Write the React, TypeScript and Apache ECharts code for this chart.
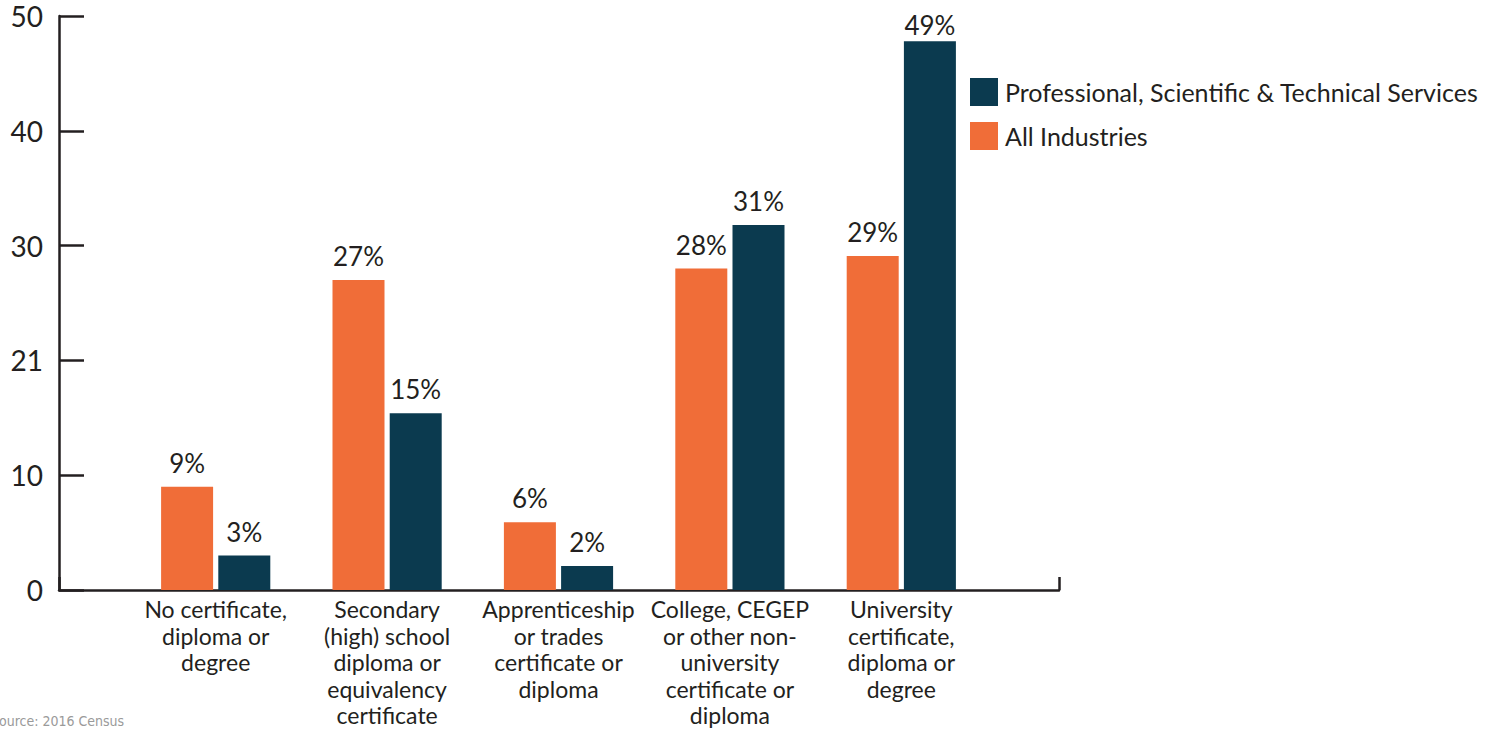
import React, { useEffect, useRef } from "react";
import * as echarts from "echarts";

const categories = [
  "No certificate,\ndiploma or\ndegree",
  "Secondary\n(high) school\ndiploma or\nequivalency\ncertificate",
  "Apprenticeship\nor trades\ncertificate or\ndiploma",
  "College, CEGEP\nor other non-\nuniversity\ncertificate or\ndiploma",
  "University\ncertificate,\ndiploma or\ndegree",
];
const allIndustries = [9, 27, 5.9, 28, 29.1];
const allIndustriesLabels = ["9%", "27%", "6%", "28%", "29%"];
const professional = [3, 15.4, 2.1, 31.8, 47.8];
const professionalLabels = ["3%", "15%", "2%", "31%", "49%"];
const yTickLabels = ["0", "10", "21", "30", "40", "50"];
const seriesNames = ["All Industries", "Professional, Scientific & Technical Services"];

const ORANGE = "#F06D38";
const NAVY = "#0B3A4F";
const INK = "#231F20";
const FONT = "Lato, 'Open Sans', sans-serif";

export default function App() {
  const ref = useRef<HTMLDivElement>(null);
  useEffect(() => {
    if (!ref.current) return;
    const chart = echarts.init(ref.current, null, { renderer: "svg" });
    const labelBase = {
      show: true,
      position: "top",
      distance: 11,
      fontSize: 26,
      color: INK,
      fontFamily: FONT,
    };
    chart.setOption({
      animation: false,
      textStyle: { fontFamily: FONT },
      grid: [
        { left: 59, right: 433, top: 16, bottom: 139 },
        { left: 130, right: 505, top: 16, bottom: 139 },
      ],
      legend: {
        data: [seriesNames[1], seriesNames[0]],
        orient: "vertical",
        left: 970,
        top: 78,
        itemWidth: 28,
        itemHeight: 28,
        itemGap: 16,
        padding: 0,
        icon: "rect",
        textStyle: { fontSize: 25, color: INK, fontFamily: FONT, padding: [0, 0, 0, 2] },
      },
      xAxis: [
        {
          gridIndex: 0,
          type: "value",
          min: 0,
          max: 1,
          interval: 1,
          axisLine: { show: true, lineStyle: { color: INK, width: 2.5 } },
          axisTick: { show: true, inside: true, length: 13, lineStyle: { color: INK, width: 2.5 } },
          axisLabel: { show: false },
          splitLine: { show: false },
        },
        {
          gridIndex: 1,
          type: "category",
          data: categories,
          axisLine: { show: false },
          axisTick: { show: false },
          axisLabel: {
            interval: 0,
            margin: 6,
            fontSize: 23,
            lineHeight: 26.5,
            color: INK,
            fontFamily: FONT,
          },
        },
      ],
      yAxis: [
        {
          gridIndex: 0,
          type: "value",
          min: 0,
          max: 50,
          interval: 10,
          axisLine: { show: true, lineStyle: { color: INK, width: 2.5 } },
          axisTick: { show: true, inside: true, length: 25, lineStyle: { color: INK, width: 2.5 } },
          axisLabel: {
            margin: 16,
            fontSize: 28,
            color: INK,
            fontFamily: FONT,
            formatter: (_v: number, i: number) => yTickLabels[i],
          },
          splitLine: { show: false },
        },
        {
          gridIndex: 1,
          type: "value",
          min: 0,
          max: 50,
          show: false,
        },
      ],
      series: [
        {
          name: seriesNames[0],
          type: "bar",
          xAxisIndex: 1,
          yAxisIndex: 1,
          data: allIndustries,
          barWidth: 52,
          barGap: "10%",
          itemStyle: { color: ORANGE },
          label: { ...labelBase, formatter: (p: any) => allIndustriesLabels[p.dataIndex] },
        },
        {
          name: seriesNames[1],
          type: "bar",
          xAxisIndex: 1,
          yAxisIndex: 1,
          data: professional.map((v, i) =>
            i === professional.length - 1 ? { value: v, label: { distance: 3 } } : v
          ),
          barWidth: 52,
          barGap: "10%",
          itemStyle: { color: NAVY },
          label: { ...labelBase, formatter: (p: any) => professionalLabels[p.dataIndex] },
        },
      ],
      graphic: [
        {
          type: "text",
          left: -9,
          top: 714,
          style: {
            text: "Source: 2016 Census",
            fontSize: 14,
            fill: "#9a9a9a",
            fontFamily: "'Liberation Sans Narrow', 'DejaVu Sans Condensed', sans-serif",
          },
        },
      ],
    });
    return () => chart.dispose();
  }, []);
  return <div ref={ref} style={{ width: 1492, height: 729, position: "absolute", left: 0, top: 0 }} />;
}
